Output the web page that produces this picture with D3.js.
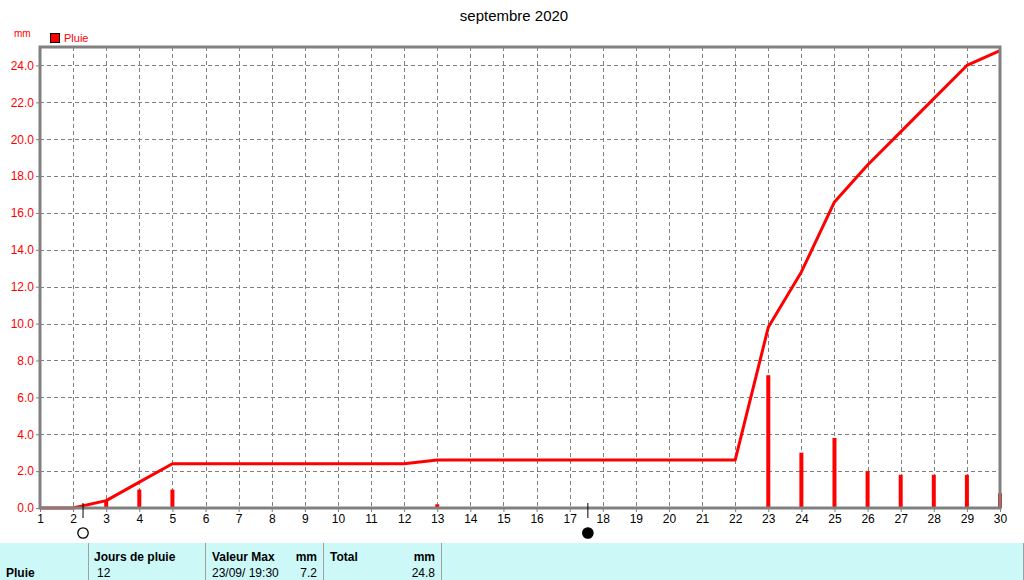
<!DOCTYPE html>
<html><head><meta charset="utf-8">
<script src="https://cdn.jsdelivr.net/npm/d3@7"></script>
<style>body{margin:0;background:#fff}svg{display:block;font-family:"Liberation Sans",Arial,sans-serif}</style>
</head><body><svg id="c" width="1024" height="580"></svg>
<script>
const title = "septembre 2020";
const days = d3.range(1, 31);
const dailyRain = [0,0,0.4,1.0,1.0,0,0,0,0,0,0,0,0.2,0,0,0,0,0,0,0,0,0,7.2,3.0,3.8,2.0,1.8,1.8,1.8,0.8];
const cumulRain = [0,0,0.4,1.4,2.4,2.4,2.4,2.4,2.4,2.4,2.4,2.4,2.6,2.6,2.6,2.6,2.6,2.6,2.6,2.6,2.6,2.6,9.8,12.8,16.6,18.6,20.4,22.2,24.0,24.8];
const yTicks = [0,2,4,6,8,10,12,14,16,18,20,22,24];
const moonPhases = [{day:2.3, type:"new"},{day:17.55, type:"full"}];
const tableHeaders = ["Jours de pluie","Valeur Max","mm","Total","mm"];
const tableValues = ["12","23/09/ 19:30","7.2","24.8"];

const svg = d3.select("#c");
const L=40, R=1000, T=47, B=508;
const x = d3.scaleLinear().domain([1,30]).range([L,R]);
const y = d3.scaleLinear().domain([0,25]).range([B,T]);
const grey="#808080";

svg.append("text").attr("x",514).attr("y",21).attr("text-anchor","middle").attr("font-size",15).attr("fill","#000").text(title);
svg.append("text").attr("x",14).attr("y",37).attr("font-size",10).attr("fill","red").text("mm");
svg.append("rect").attr("x",50.5).attr("y",33.5).attr("width",9).attr("height",9).attr("fill","red").attr("stroke","#000");
svg.append("text").attr("x",64).attr("y",42).attr("font-size",11).attr("fill","red").text("Pluie");

// grid
const g = svg.append("g");
g.selectAll(".vg").data(days.slice(1,-1)).join("line")
 .attr("x1",d=>Math.round(x(d))+0.5).attr("x2",d=>Math.round(x(d))+0.5).attr("y1",T).attr("y2",B)
 .attr("stroke",grey).attr("stroke-dasharray","4,3");
g.selectAll(".hg").data(yTicks.slice(1)).join("line")
 .attr("x1",L).attr("x2",R).attr("y1",d=>Math.round(y(d))+0.5).attr("y2",d=>Math.round(y(d))+0.5)
 .attr("stroke",grey).attr("stroke-dasharray","4,3");

// axes
const yAxis = d3.axisLeft(y).tickValues(yTicks).tickFormat(d3.format(".1f")).tickSize(4).tickPadding(2);
const ya = svg.append("g").attr("transform",`translate(${L},0)`).call(yAxis);
ya.select(".domain").remove();
ya.selectAll("line").attr("stroke",grey);
ya.selectAll("text").attr("fill","red").attr("font-size",12).attr("font-family","Liberation Sans, Arial");
const xAxis = d3.axisBottom(x).tickValues(days).tickFormat(d3.format("d")).tickSize(4).tickPadding(2);
const xa = svg.append("g").attr("transform",`translate(0,${B})`).call(xAxis);
xa.select(".domain").remove();
xa.selectAll("line").attr("stroke",grey);
xa.selectAll("text").attr("fill","#000").attr("font-size",12).attr("font-family","Liberation Sans, Arial");

// bars
svg.selectAll(".bar").data(days.map((d,i)=>({d,v:dailyRain[i]})).filter(o=>o.v>0)).join("rect")
 .attr("x",o=>x(o.d)-2).attr("width",4).attr("y",o=>y(o.v)).attr("height",o=>B-y(o.v)).attr("fill","red");

// cumulative line
svg.append("path").datum(days.map((d,i)=>[d,cumulRain[i]]))
 .attr("d",d3.line().x(p=>x(p[0])).y(p=>y(p[1])))
 .attr("fill","none").attr("stroke","red").attr("stroke-width",3).attr("stroke-linejoin","round");

// frame
svg.append("rect").attr("x",L).attr("y",T).attr("width",R-L).attr("height",B-T)
 .attr("fill","none").attr("stroke",grey).attr("stroke-width",3);

// moon phases
moonPhases.forEach(m=>{
  const cx = x(m.day);
  svg.append("line").attr("x1",cx).attr("x2",cx).attr("y1",503).attr("y2",518).attr("stroke","#000");
  svg.append("circle").attr("cx",cx).attr("cy",533).attr("r",5.2)
   .attr("fill",m.type==="full"?"#000":"#fff").attr("stroke","#000").attr("stroke-width",1.3);
});

// table
svg.append("rect").attr("x",0).attr("y",543).attr("width",1023).attr("height",37).attr("fill","#ccf8f8");
[88,205,323,441,1023].forEach(xx=>svg.append("line").attr("x1",xx+0.5).attr("x2",xx+0.5).attr("y1",543).attr("y2",580).attr("stroke","#a0a0a0"));
const bold = (t,xx,yy,anchor)=>svg.append("text").attr("x",xx).attr("y",yy).attr("font-size",12).attr("font-weight","bold").attr("text-anchor",anchor||"start").text(t);
const norm = (t,xx,yy,anchor)=>svg.append("text").attr("x",xx).attr("y",yy).attr("font-size",12).attr("text-anchor",anchor||"start").text(t);
bold("Pluie",6,577);
bold(tableHeaders[0],94,561);
bold(tableHeaders[1],212,561);
bold(tableHeaders[2],317,561,"end");
bold(tableHeaders[3],330,561);
bold(tableHeaders[4],435,561,"end");
norm(tableValues[0],97,577);
norm(tableValues[1],212,577);
norm(tableValues[2],317,577,"end");
norm(tableValues[3],435,577,"end");
</script></body></html>
